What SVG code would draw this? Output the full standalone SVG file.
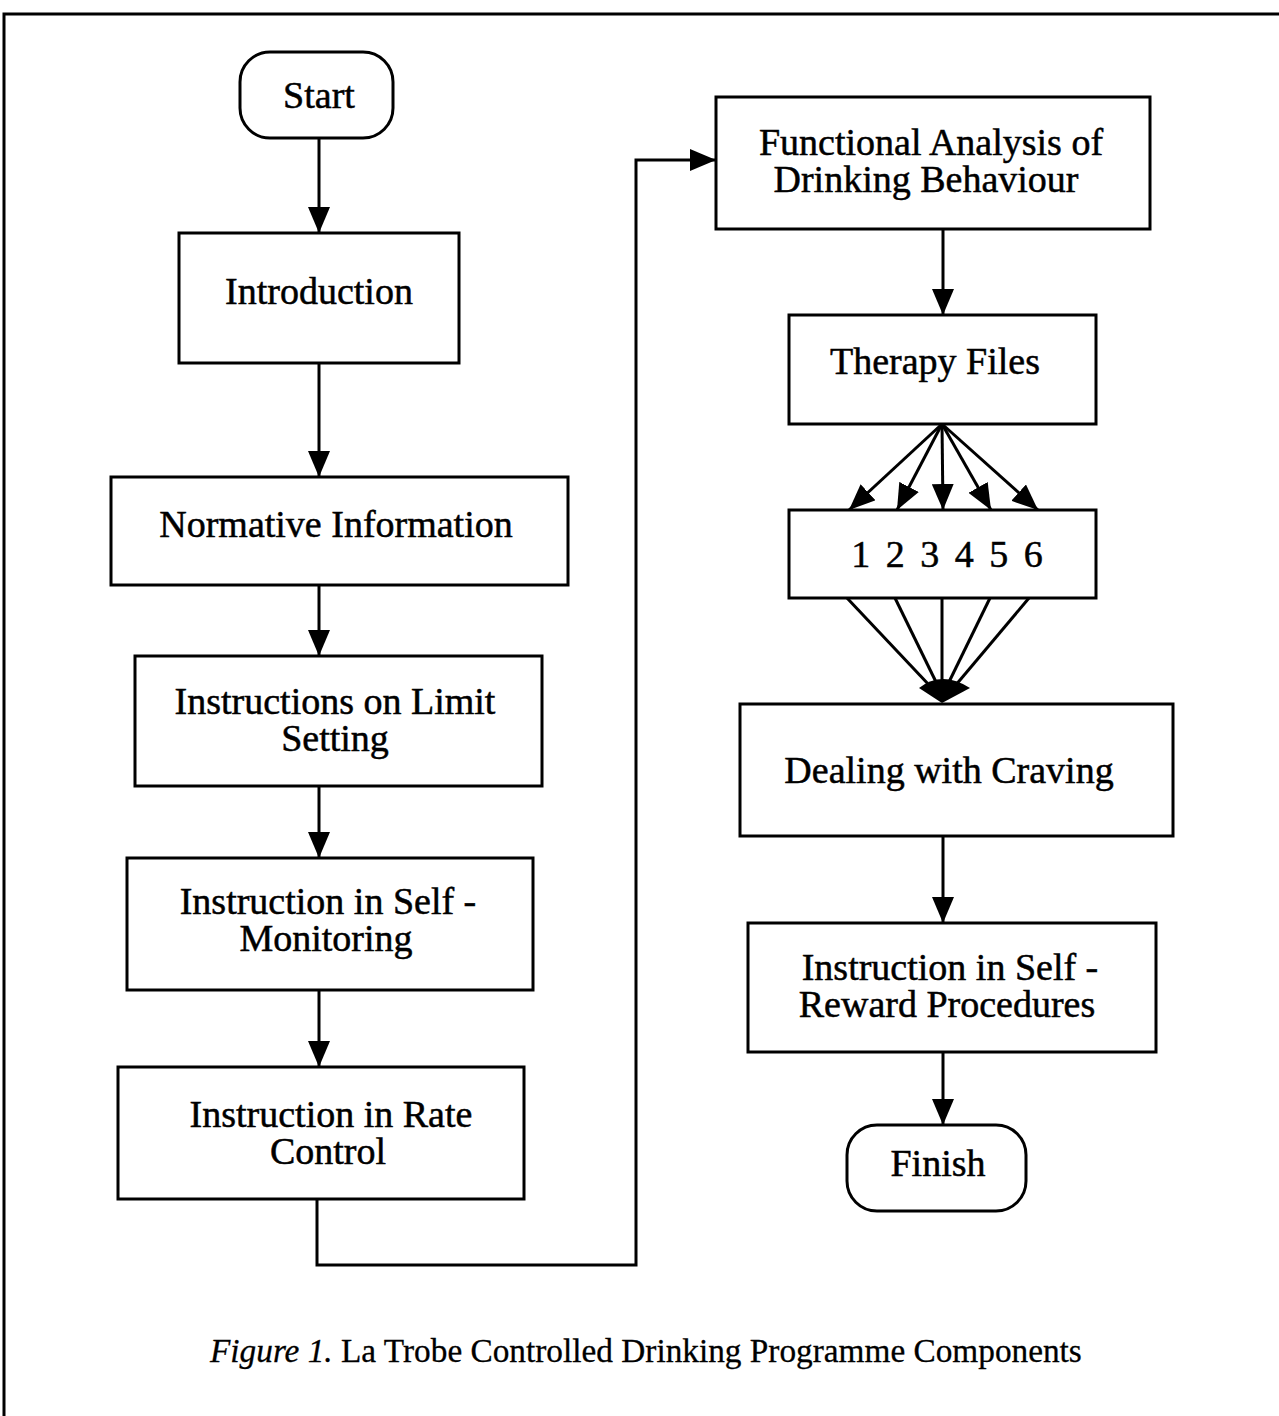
<svg xmlns="http://www.w3.org/2000/svg" width="1279" height="1416" viewBox="0 0 1279 1416">
  <defs>
    <marker id="arrow" viewBox="0 0 26 22" refX="26" refY="11" markerWidth="26" markerHeight="22" markerUnits="userSpaceOnUse" orient="auto">
      <path d="M0,0 L26,11 L0,22 Z" fill="#000"/>
    </marker>
    <style>
      .box { fill: #fff; stroke: #000; stroke-width: 3; }
      .edge { fill: none; stroke: #000; stroke-width: 3; }
      .arr { marker-end: url(#arrow); }
      .label { font-family: "Liberation Serif", "Times New Roman", serif; font-size: 38px; fill: #000; stroke: #000; stroke-width: 0.5; text-anchor: middle; }
      .caption { font-family: "Liberation Serif", "Times New Roman", serif; font-size: 33.3px; fill: #000; stroke: #000; stroke-width: 0.3; }
    </style>
  </defs>
  <rect width="1279" height="1416" fill="#fff"/>

  <!-- page frame (top and left edges) -->
  <path d="M4,1416 V14 H1279" fill="none" stroke="#000" stroke-width="3"/>

  <g id="connectors">
    <path class="edge arr" d="M319,138 V233"/>
    <path class="edge arr" d="M319,363 V477"/>
    <path class="edge arr" d="M319,585 V656"/>
    <path class="edge arr" d="M319,786 V858"/>
    <path class="edge arr" d="M319,990 V1067"/>
    <path class="edge arr" d="M317,1199 V1265 H636 V160 H716"/>
    <path class="edge arr" d="M943,229 V315"/>
    <!-- fan out from Therapy Files -->
    <path class="edge arr" d="M942,424 L849,510"/>
    <path class="edge arr" d="M942,424 L897,510"/>
    <path class="edge arr" d="M942,424 L943,510"/>
    <path class="edge arr" d="M942,424 L991,510"/>
    <path class="edge arr" d="M942,424 L1038,510"/>
    <!-- fan in to Dealing with Craving -->
    <path class="edge" d="M847,598 L930,686"/>
    <path class="edge" d="M895,598 L937,684"/>
    <path class="edge" d="M942,598 L942,684"/>
    <path class="edge" d="M990,598 L948,684"/>
    <path class="edge" d="M1029,598 L955,686"/>
    <path d="M919,688 Q942,670 970,688 L942,703 Z" fill="#000"/>
    <path class="edge arr" d="M943,836 V923"/>
    <path class="edge arr" d="M943,1052 V1125"/>
  </g>

  <g id="start">
    <rect class="box" x="240" y="52" width="153" height="86" rx="30"/>
    <text class="label" x="319" y="108">Start</text>
  </g>
  <g id="introduction">
    <rect class="box" x="179" y="233" width="280" height="130"/>
    <text class="label" x="319" y="304">Introduction</text>
  </g>
  <g id="normative">
    <rect class="box" x="111" y="477" width="457" height="108"/>
    <text class="label" x="336" y="537">Normative Information</text>
  </g>
  <g id="limit">
    <rect class="box" x="135" y="656" width="407" height="130"/>
    <text class="label" x="335" y="714">Instructions on Limit</text>
    <text class="label" x="335" y="751">Setting</text>
  </g>
  <g id="self-monitoring">
    <rect class="box" x="127" y="858" width="406" height="132"/>
    <text class="label" x="328" y="914">Instruction in Self -</text>
    <text class="label" x="326" y="951">Monitoring</text>
  </g>
  <g id="rate">
    <rect class="box" x="118" y="1067" width="406" height="132"/>
    <text class="label" x="331" y="1127">Instruction in Rate</text>
    <text class="label" x="328" y="1164">Control</text>
  </g>
  <g id="functional">
    <rect class="box" x="716" y="97" width="434" height="132"/>
    <text class="label" x="931" y="155">Functional Analysis of</text>
    <text class="label" x="926" y="192">Drinking Behaviour</text>
  </g>
  <g id="therapy">
    <rect class="box" x="789" y="315" width="307" height="109"/>
    <text class="label" x="935" y="374">Therapy Files</text>
  </g>
  <g id="files">
    <rect class="box" x="789" y="510" width="307" height="88"/>
    <text class="label" x="947" y="567" style="word-spacing:6px">1 2 3 4 5 6</text>
  </g>
  <g id="craving">
    <rect class="box" x="740" y="704" width="433" height="132"/>
    <text class="label" x="949" y="783">Dealing with Craving</text>
  </g>
  <g id="self-reward">
    <rect class="box" x="748" y="923" width="408" height="129"/>
    <text class="label" x="950" y="980">Instruction in Self -</text>
    <text class="label" x="947" y="1017">Reward Procedures</text>
  </g>
  <g id="finish">
    <rect class="box" x="847" y="1125" width="179" height="86" rx="30"/>
    <text class="label" x="938" y="1176">Finish</text>
  </g>

  <text class="caption" x="210" y="1362"><tspan font-style="italic">Figure 1.</tspan> La Trobe Controlled Drinking Programme Components</text>
</svg>
